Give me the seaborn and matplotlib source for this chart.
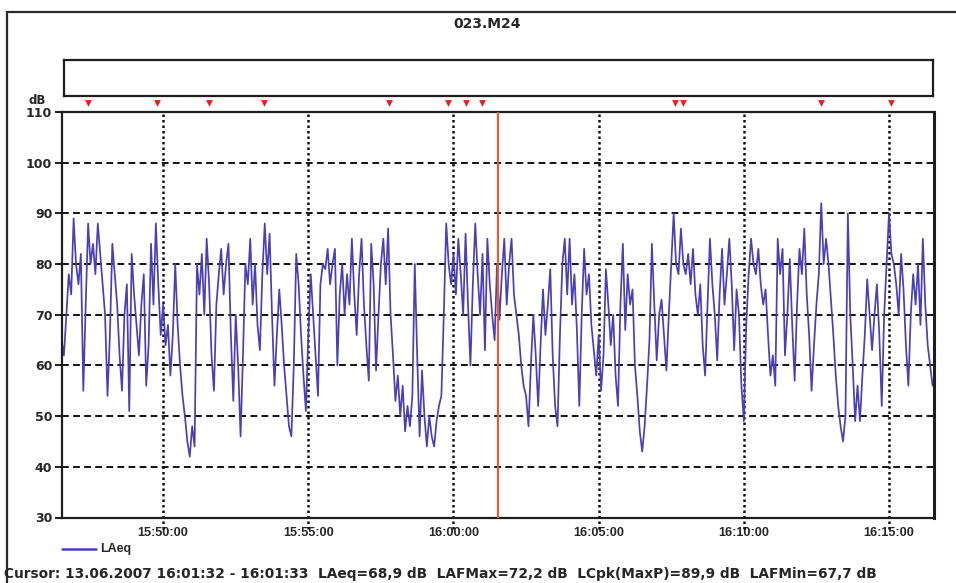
import pandas as pd
import seaborn as sns
import matplotlib.pyplot as plt
import matplotlib.transforms as mtransforms
from matplotlib.patches import Rectangle

# LAeq in dB, one value every 5 s from 15:46:30 (one row = one minute)
laeq = [
    65, 62, 70, 78, 74, 89, 80, 76, 82, 55, 72, 88,
    80, 84, 78, 88, 82, 76, 70, 54, 66, 84, 78, 72,
    62, 55, 70, 76, 51, 82, 74, 68, 62, 72, 78, 56,
    64, 84, 72, 88, 76, 66, 72, 64, 68, 58, 66, 80,
    68, 60, 54, 50, 45, 42, 48, 44, 80, 74, 82, 70,
    85, 76, 62, 55, 72, 78, 83, 74, 80, 84, 66, 53,
    70, 60, 46, 62, 80, 76, 85, 72, 80, 68, 63, 78,
    88, 78, 86, 70, 56, 66, 75, 68, 60, 54, 48, 46,
    60, 82, 76, 66, 58, 51, 66, 78, 70, 62, 54, 76,
    80, 79, 83, 76, 80, 83, 60, 74, 80, 70, 78, 72,
    85, 74, 66, 78, 85, 72, 64, 57, 84, 76, 59, 70,
    80, 85, 76, 87, 70, 62, 53, 58, 50, 56, 47, 52,
    48, 54, 80, 62, 46, 59, 50, 44, 50, 46, 44, 49,
    52, 54, 70, 88, 80, 76, 82, 74, 85, 78, 70, 86,
    72, 60, 76, 88, 78, 70, 82, 63, 85, 76, 70, 65,
    80, 69, 78, 85, 72, 80, 85, 74, 70, 66, 60, 56,
    54, 48, 60, 70, 62, 52, 64, 75, 66, 72, 79, 62,
    52, 48, 66, 80, 85, 74, 85, 72, 78, 67, 52, 70,
    83, 74, 78, 68, 63, 58, 66, 55, 62, 79, 72, 64,
    70, 58, 52, 72, 84, 67, 78, 72, 75, 60, 54, 47,
    43, 48, 56, 65, 84, 72, 61, 70, 73, 66, 59, 70,
    80, 90, 80, 78, 87, 80, 78, 82, 76, 83, 74, 70,
    76, 64, 58, 72, 85, 76, 70, 61, 74, 83, 72, 78,
    85, 76, 63, 75, 70, 56, 49, 68, 78, 85, 80, 78,
    83, 76, 72, 75, 66, 58, 62, 56, 85, 78, 83, 62,
    70, 81, 68, 57, 72, 83, 78, 87, 74, 66, 55, 64,
    72, 78, 92, 80, 85, 80, 73, 66, 58, 52, 48, 45,
    50, 90, 70, 60, 49, 56, 49, 58, 66, 77, 70, 63,
    70, 76, 66, 52, 70, 80, 90, 82, 80, 76, 70, 82,
    75, 64, 56, 70, 78, 72, 80, 68, 85, 72, 64, 60,
    56,
]
day = '2007-06-13'
start_time = '15:46:30'
y_ticks = [30, 40, 50, 60, 70, 80, 90, 100, 110]
x_ticks = ['15:50:00', '15:55:00', '16:00:00', '16:05:00', '16:10:00', '16:15:00']
event_times = ['15:47:25', '15:49:48', '15:51:35', '15:53:29', '15:57:47', '15:59:49',
               '16:00:26', '16:00:59', '16:07:38', '16:07:54', '16:12:40', '16:15:04']
cursor_time = '16:01:32'
cursor_text = ('Cursor: 13.06.2007 16:01:32 - 16:01:33  LAeq=68,9 dB  LAFMax=72,2 dB  '
               'LCpk(MaxP)=89,9 dB  LAFMin=67,7 dB')

df = pd.DataFrame({
    'time': pd.date_range(f'{day} {start_time}', periods=len(laeq), freq='5s'),
    'LAeq': laeq,
})

sns.set_theme(style='white')
plt.rcParams['font.family'] = ['DejaVu Sans']
plt.rcParams['font.weight'] = 'bold'
narrow = ['Liberation Sans', 'DejaVu Sans']

W, H = 956, 583
fig = plt.figure(figsize=(W / 100, H / 100), dpi=100)
fig.patch.set_facecolor('white')

# outer frame
fig.patches.append(Rectangle((7 / W, -0.05), 1.2, 1 - 12 / H + 0.05, transform=fig.transFigure,
                             fill=False, edgecolor='#2a2a2a', linewidth=1.6))

# event bar
ev = fig.add_axes([64 / W, 1 - 96 / H, 869 / W, 36 / H])
ev.set_xticks([])
ev.set_yticks([])
for s in ev.spines.values():
    s.set_color('#1e1e1e')
    s.set_linewidth(1.6)

ax = fig.add_axes([62 / W, 1 - 517.5 / H, 872 / W, 405.5 / H])
line_color = '#4b3fb4'
sns.lineplot(data=df, x='time', y='LAeq', ax=ax, color=line_color, linewidth=1.25, estimator=None)

ax.set_xlim(pd.Timestamp(f'{day} 15:46:31'), pd.Timestamp(f'{day} 16:16:33'))
ax.set_ylim(30, 110)
ax.set_yticks(y_ticks)
ax.set_yticklabels([str(v) for v in y_ticks], fontsize=9, fontweight='bold')
xt = [pd.Timestamp(f'{day} {t}') for t in x_ticks]
ax.set_xticks(xt)
ax.set_xticklabels(x_ticks, fontsize=9.2, fontweight='bold', family=narrow)
ax.set_xlabel('')
ax.set_ylabel('')
ax.tick_params(axis='y', direction='out', length=5, width=1.5, color='#222222', pad=2, left=True)
ax.tick_params(axis='x', length=0, pad=7)

for v in y_ticks[1:-1]:
    ax.axhline(v, color='#111111', linewidth=1.4, linestyle=(0, (3.5, 2.2)), zorder=1)
bt = mtransforms.blended_transform_factory(ax.transData, ax.transAxes)
for t in xt:
    ax.axvline(t, color='#111111', linewidth=1.8, linestyle=(0, (1, 1.2)), zorder=1)
    ax.plot([t, t], [-0.028, 0], transform=bt, color='#111111', linewidth=1.8,
            linestyle=(0, (1, 1.2)), clip_on=False)

for s in ax.spines.values():
    s.set_color('#1e1e1e')
    s.set_linewidth(1.6)
ax.spines['right'].set_linewidth(2.2)

# cursor
ax.axvline(pd.Timestamp(f'{day} {cursor_time}'), color='#e2602e', linewidth=1.6, zorder=3)

# event markers above the plot
ev_x = [pd.Timestamp(f'{day} {t}') for t in event_times]
ax.scatter(ev_x, [1.021] * len(ev_x), transform=bt, marker='v', s=24, color='#e8201c',
           linewidths=0, clip_on=False, zorder=5)

fig.text(487 / W, 1 - 24 / H, '023.M24', ha='center', va='center', fontsize=10, fontweight='bold')
fig.text(37 / W, 1 - 101 / H, 'dB', ha='center', va='center', fontsize=8.5, fontweight='bold')

# legend
fig.add_artist(plt.Line2D([62 / W, 96 / W], [1 - 549 / H, 1 - 549 / H], color=line_color, linewidth=1.8))
fig.text(100 / W, 1 - 549 / H, 'LAeq', ha='left', va='center', fontsize=9, fontweight='bold',
         family=narrow)
fig.text(4 / W, 1 - 574 / H, cursor_text, ha='left', va='center', fontsize=9.9, fontweight='bold')

fig.savefig('out.png', dpi=100, facecolor='white')
